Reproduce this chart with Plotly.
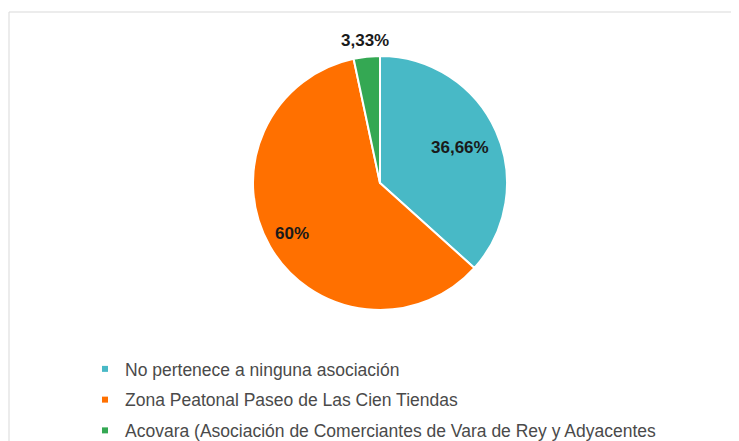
import math
import plotly.graph_objects as go

categories = [
    "No pertenece a ninguna asociación",
    "Zona Peatonal Paseo de Las Cien Tiendas",
    "Acovara (Asociación de Comerciantes de Vara de Rey y Adyacentes",
]
values = [36.66, 60.0, 3.33]
value_labels = ["36,66%", "60%", "3,33%"]
colors = ["#48B9C6", "#FF7000", "#34A853"]
label_radius = [0.69, 0.80, 1.13]  # style: label distance as fraction of radius

W, H = 739, 441
cx, cy, r = 372, 175, 127  # pie centre / radius in figure pixels

fig = go.Figure()
fig.add_trace(
    go.Pie(
        labels=categories,
        values=values,
        textinfo="none",
        sort=False,
        direction="clockwise",
        rotation=0,
        showlegend=False,
        marker=dict(colors=colors, line=dict(color="white", width=2)),
        hoverinfo="label+percent",
        domain=dict(
            x=[(cx - r) / W, (cx + r) / W],
            y=[(H - cy - r) / H, (H - cy + r) / H],
        ),
    )
)

# legend entries (one group each, so spacing can be set)
for i, (name, col) in enumerate(zip(categories, colors)):
    fig.add_trace(
        go.Scatter(
            x=[None], y=[None], mode="markers", name=name,
            marker=dict(symbol="square", size=6, color=col),
            legendgroup=f"g{i}", showlegend=True,
        )
    )

# value labels placed from the slice angles
total = sum(values)
annotations = []
cum = 0.0
for v, txt, rf in zip(values, value_labels, label_radius):
    mid = (cum + v / 2) / total * 2 * math.pi
    cum += v
    px = cx + rf * r * math.sin(mid)
    py = cy - rf * r * math.cos(mid)
    annotations.append(
        dict(
            x=px / W, y=1 - py / H, xref="paper", yref="paper",
            text=f"<b>{txt}</b>", showarrow=False,
            font=dict(family="Liberation Sans", size=17, color="#1a1a1a"),
            xanchor="center", yanchor="middle",
        )
    )

fig.update_layout(
    width=W,
    height=H,
    margin=dict(l=0, r=0, t=0, b=0),
    paper_bgcolor="white",
    plot_bgcolor="white",
    font=dict(family="Liberation Sans", size=17.5, color="#4a4a4a"),
    xaxis=dict(visible=False),
    yaxis=dict(visible=False),
    showlegend=True,
    legend=dict(
        x=77 / W,
        y=1 - 343 / H,
        xanchor="left",
        yanchor="top",
        tracegroupgap=5,
        traceorder="grouped",
        font=dict(family="Liberation Sans", size=17.5, color="#4a4a4a"),
        bgcolor="rgba(0,0,0,0)",
    ),
    annotations=annotations,
    shapes=[
        dict(
            type="rect",
            xref="paper",
            yref="paper",
            x0=1 / W,
            x1=1.02,
            y0=-0.02,
            y1=1 - 4 / H,
            line=dict(color="#D9D9D9", width=1),
            fillcolor="rgba(0,0,0,0)",
            layer="below",
        )
    ],
)

fig.write_html("out.html")
